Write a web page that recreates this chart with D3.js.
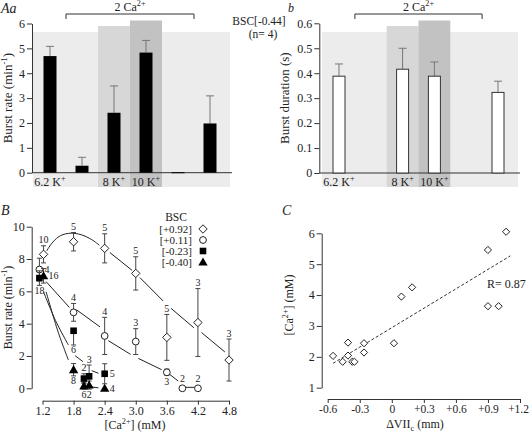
<!DOCTYPE html>
<html><head><meta charset="utf-8">
<script src="https://cdn.jsdelivr.net/npm/d3@7"></script>
<style>
body{margin:0;background:#fff}
svg{display:block}
text{font-family:"Liberation Serif","Times New Roman",serif;fill:#222}
</style>
</head><body><svg id="c" width="529" height="432"></svg>
<script>
// ---------- Panel A data ----------
const conditions = ["6.2 K", "2 Ca i", "8 K", "10 K", "2 Ca ii", "2 Ca iii"];
const conditionLabels = ["6.2 K", "", "8 K", "10 K", "", ""];
const burstRate = [4.69, 0.28, 2.41, 4.83, 0.02, 1.98];
const burstRateErr = [0.39, 0.34, 1.08, 0.49, 0, 1.11];
const burstDur = [0.388, null, 0.416, 0.388, null, 0.323];
const burstDurErr = [0.049, null, 0.084, 0.057, null, 0.045];
const rateTicksA = [0, 1, 2, 3, 4, 5, 6];
const durTicks = [0, 0.1, 0.2, 0.3, 0.4, 0.5, 0.6];

// ---------- Panel B data ----------
const bscLabels = ["[+0.92]", "[+0.11]", "[-0.23]", "[-0.40]"];
const diaX = [1.22, 1.8, 2.4, 3.0, 3.6, 4.2, 4.8];
const diaY = [8.29, 9.07, 8.66, 7.11, 3.15, 4.07, 1.75];
const diaErr = [0.53, 0.57, 0.9, 1.03, 1.42, 2.1, 1.3];
const diaN = [10, 5, 5, 5, 5, 3, 3];
const circX = [1.14, 1.8, 2.4, 3.0, 3.6, 3.9, 4.2];
const circY = [7.35, 4.70, 3.24, 2.89, 0.99, 0, 0];
const circErr = [0.7, 0.55, 1.15, 0.8, 0.2, 0, 0];
const circN = [4, 4, 4, 3, 3, 2, 2];
const sqX = [1.14, 1.8, 2.0, 2.1, 2.4];
const sqY = [6.82, 3.56, 0.6, 0.74, 0.9];
const sqErrLo = [0.45, 0.88, 0.3, 0.7, 0.62];
const sqErrHi = [0.45, 0, 0.3, 0.7, 0.62];
const sqN = [18, 6, 2, 3, 5];
const triX = [1.22, 1.8, 2.0, 2.1, 2.4];
const triY = [6.96, 1.15, 0.15, 0.2, 0];
const triErr = [0.45, 0.38, 0.2, 0.25, 0];
const triN = [16, 8, 6, 2, 4];
const diaFit = [
  [[1.28, 8.5], [1.4, 9.05], [1.55, 9.45], [1.75, 9.6], [1.95, 9.5], [2.15, 9.2], [2.3, 8.85]],
  [[2.5, 8.4], [2.93, 7.3]],
  [[3.08, 6.85], [3.53, 5.4]],
  [[3.68, 4.95], [4.12, 3.75]],
  [[4.27, 3.45], [4.72, 2.25]]
];
const circFit = [
  [[1.27, 6.6], [1.72, 5.0]],
  [[1.86, 4.85], [2.31, 3.8]],
  [[2.47, 2.95], [2.9, 2.1]],
  [[3.05, 1.85], [3.5, 1.15]],
  [[3.66, 0.85], [3.82, 0.45]],
  [[3.97, 0.06], [4.13, 0.06]]
];
const sqFit = [
  [[1.22, 5.97], [1.45, 4.2], [1.7, 2.68]],
  [[1.83, 2.02], [1.98, 1.65]],
  [[2.15, 1.09], [2.28, 0.93]]
];
const triFit = [
  [[1.27, 5.97], [1.5, 3.5], [1.7, 1.75]],
  [[2.15, 0.08], [2.28, 0.03]]
];
const caTicks = [1.2, 1.8, 2.4, 3.0, 3.6, 4.2, 4.8];
const rateTicksB = [0, 2, 4, 6, 8, 10];

// ---------- Panel C data ----------
const dVII = [-0.55, -0.46, -0.41, -0.41, -0.37, -0.35, -0.26, -0.26, 0.02, 0.09, 0.19, 0.9, 0.9, 1.0, 1.07];
const caThresh = [2.03, 1.84, 2.46, 2.04, 1.84, 1.84, 2.44, 2.14, 2.44, 3.95, 4.25, 5.46, 3.64, 3.64, 6.05];
const regLine = [[-0.55, 1.79], [1.11, 5.27]];
const dTicks = [-0.6, -0.3, 0, 0.3, 0.6, 0.9, 1.2];
const caTicksC = [1, 2, 3, 4, 5, 6];

// ---------- helpers ----------
const svg = d3.select("#c");
svg.append("rect").attr("width", 529).attr("height", 432).attr("fill", "#fff");

function rich(t, parts, fs) {
  let shift = 0;
  parts.forEach(p => {
    const target = p.sup ? -fs * 0.4 : p.sub ? fs * 0.25 : 0;
    const ts = t.append("tspan").attr("dy", target - shift).text(p.t);
    if (p.sup || p.sub) ts.attr("font-size", fs * 0.68);
    shift = target;
  });
  return t;
}
function styleAxis(g) {
  g.selectAll("path,line").attr("stroke", "#333").attr("stroke-width", 1);
  g.selectAll("text").attr("fill", "#222");
}

// ---------- bar panels ----------
function barPanel(opt) {
  const g = svg.append("g");
  const x = d3.scalePoint().domain(conditions).range(opt.xr);
  const step = x.step();
  const y = d3.scaleLinear().domain(opt.yd).range(opt.yr);
  g.append("rect").attr("x", x(conditions[0]) - 17).attr("y", 32)
    .attr("width", x(conditions[5]) + 20 - (x(conditions[0]) - 17)).attr("height", 155).attr("fill", "#ececec");
  g.append("rect").attr("x", x("8 K") - step / 2).attr("y", 26).attr("width", step).attr("height", 161).attr("fill", "#d7d7d7");
  g.append("rect").attr("x", x("10 K") - step / 2).attr("y", 20.5).attr("width", step).attr("height", 166.5).attr("fill", "#c2c2c2");
  const ya = g.append("g").attr("transform", `translate(${opt.axisX},0)`)
    .call(d3.axisLeft(y).tickValues(opt.ticks).tickSize(5).tickSizeOuter(0).tickFormat(opt.fmt))
    .attr("font-size", 12).attr("font-family", null);
  styleAxis(ya);
  ya.selectAll("text").attr("x", -7);
  g.append("line").attr("x1", opt.axisX).attr("x2", x(conditions[5]) + 22)
    .attr("y1", y(0)).attr("y2", y(0)).attr("stroke", "#333");
  opt.vals.forEach((v, i) => {
    if (v === null) return;
    const c = conditions[i];
    if (opt.err[i] > 0) {
      g.append("line").attr("x1", x(c)).attr("x2", x(c)).attr("y1", y(v)).attr("y2", y(v + opt.err[i])).attr("stroke", "#777");
      g.append("line").attr("x1", x(c) - 4).attr("x2", x(c) + 4).attr("y1", y(v + opt.err[i])).attr("y2", y(v + opt.err[i])).attr("stroke", "#777");
    }
    g.append("rect").attr("x", x(c) - opt.bw / 2).attr("y", y(v)).attr("width", opt.bw)
      .attr("height", Math.max(1, y(0) - y(v)))
      .attr("fill", opt.fill).attr("stroke", opt.stroke).attr("stroke-width", opt.fill === "#000" ? 0 : 1);
  });
  conditionLabels.forEach((l, i) => {
    if (!l) return;
    rich(g.append("text").attr("x", x(conditions[i])).attr("y", 186).attr("text-anchor", "middle").attr("font-size", 12),
      [{ t: l }, { t: "+", sup: true }], 12);
  });
  const bx1 = x(conditions[1]) - step / 2, bx2 = x(conditions[4]) + step / 2;
  g.append("path").attr("d", `M${bx1},19V14H${bx2}V19`).attr("fill", "none").attr("stroke", "#333");
  rich(g.append("text").attr("x", (bx1 + bx2) / 2).attr("y", 11).attr("text-anchor", "middle").attr("font-size", 12),
    [{ t: "2 Ca" }, { t: "2+", sup: true }], 12);
  rich(g.append("text").attr("transform", `translate(${opt.labX},${(opt.yr[0] + opt.yr[1]) / 2}) rotate(-90)`)
    .attr("text-anchor", "middle").attr("font-size", 13), opt.ylab, 13);
  return { x, y };
}

barPanel({
  xr: [50, 210], yd: [0, 6], yr: [172.7, 23.5], axisX: 32, ticks: rateTicksA, fmt: d3.format("d"),
  vals: burstRate, err: burstRateErr, bw: 13, fill: "#000", stroke: "none", labX: 12,
  ylab: [{ t: "Burst rate (min" }, { t: "-1", sup: true }, { t: ")" }]
});
barPanel({
  xr: [339, 498], yd: [0, 0.6], yr: [173, 23.3], axisX: 319.3, ticks: durTicks, fmt: d => d === 0 ? "0" : d3.format(".1f")(d),
  vals: burstDur, err: burstDurErr, bw: 12, fill: "#fff", stroke: "#333", labX: 289,
  ylab: [{ t: "Burst duration (s)" }]
});

rich(svg.append("text").attr("x", 1).attr("y", 13).attr("font-family", "Liberation Sans, Arial, sans-serif").attr("font-style", "italic").attr("font-size", 14),
  [{ t: "A" }, { t: "a" }], 14);
svg.append("text").attr("x", 288).attr("y", 12).attr("font-style", "italic").attr("font-size", 12).text("b");
svg.append("text").attr("x", 259).attr("y", 24.5).attr("text-anchor", "middle").attr("font-size", 11.5).text("BSC[-0.44]");
svg.append("text").attr("x", 263).attr("y", 38).attr("text-anchor", "middle").attr("font-size", 11.5).text("(n= 4)");

// ---------- Panel B ----------
const xS = d3.scaleLinear().domain([1.2, 4.8]).range([42.5, 229]);
const yS = d3.scaleLinear().domain([0, 10]).range([388.3, 226.7]);
const gB = svg.append("g");
const yaB = gB.append("g").attr("transform", "translate(31.7,0)")
  .call(d3.axisLeft(yS).tickValues(rateTicksB).tickSize(5).tickSizeOuter(0)).attr("font-size", 12).attr("font-family", null);
styleAxis(yaB); yaB.selectAll("text").attr("x", -7);
const xaB = gB.append("g").attr("transform", "translate(0,400.7)")
  .call(d3.axisBottom(xS).tickValues(caTicks).tickSize(4).tickSizeOuter(0).tickFormat(d3.format(".1f"))).attr("font-size", 12).attr("font-family", null);
styleAxis(xaB); xaB.selectAll("text").attr("y", 6);
rich(gB.append("text").attr("x", 135).attr("y", 428.5).attr("text-anchor", "middle").attr("font-size", 12),
  [{ t: "[Ca" }, { t: "2+", sup: true }, { t: "] (mM)" }], 12);
rich(gB.append("text").attr("transform", `translate(12,307.5) rotate(-90)`).attr("text-anchor", "middle").attr("font-size", 12),
  [{ t: "Burst rate (min" }, { t: "-1", sup: true }, { t: ")" }], 12);
svg.append("text").attr("x", 1).attr("y", 215).attr("font-family", "Liberation Sans, Arial, sans-serif").attr("font-style", "italic").attr("font-size", 14).text("B");

const line = d3.line().x(d => xS(d[0])).y(d => yS(d[1])).curve(d3.curveCatmullRom);
[diaFit, circFit, sqFit, triFit].forEach(f => f.forEach(seg =>
  gB.append("path").attr("d", line(seg)).attr("fill", "none").attr("stroke", "#222").attr("stroke-width", 1)));

const diamondPath = s => `M0,${-s}L${s},0L0,${s}L${-s},0Z`;
function marker(g, type, cx, cy) {
  if (type === "dia") g.append("path").attr("d", diamondPath(4.2)).attr("transform", `translate(${cx},${cy})`).attr("fill", "#fff").attr("stroke", "#222");
  else if (type === "circ") g.append("circle").attr("cx", cx).attr("cy", cy).attr("r", 3.4).attr("fill", "#fff").attr("stroke", "#222");
  else if (type === "sq") g.append("rect").attr("x", cx - 3.3).attr("y", cy - 3.3).attr("width", 6.6).attr("height", 6.6).attr("fill", "#000");
  else g.append("path").attr("d", d3.symbol(d3.symbolTriangle, 38)()).attr("transform", `translate(${cx},${cy + 0.8})`).attr("fill", "#000");
}
function series(type, xs, ys, lo, hi, ns, pos) {
  xs.forEach((xv, i) => {
    const cx = xS(xv), cy = yS(ys[i]);
    const top = yS(ys[i] + hi[i]), bot = yS(ys[i] - lo[i]);
    if (hi[i] > 0 || lo[i] > 0) {
      gB.append("line").attr("x1", cx).attr("x2", cx).attr("y1", top).attr("y2", bot).attr("stroke", "#444");
      if (hi[i] > 0) gB.append("line").attr("x1", cx - 2.5).attr("x2", cx + 2.5).attr("y1", top).attr("y2", top).attr("stroke", "#444");
      if (lo[i] > 0) gB.append("line").attr("x1", cx - 2.5).attr("x2", cx + 2.5).attr("y1", bot).attr("y2", bot).attr("stroke", "#444");
    }
    marker(gB, type, cx, cy);
    const p = pos[i];
    const t = gB.append("text").attr("font-size", 10).text(ns[i]);
    if (p === "a") t.attr("x", cx).attr("y", Math.min(top, cy - 4) - 2.5).attr("text-anchor", "middle");
    else if (p === "b") t.attr("x", cx).attr("y", Math.max(bot, cy + 4) + 8.5).attr("text-anchor", "middle");
    else t.attr("x", cx + 5).attr("y", cy + 3.5).attr("text-anchor", "start");
  });
}
series("dia", diaX, diaY, diaErr, diaErr, diaN, ["a", "a", "a", "a", "a", "a", "a"]);
series("circ", circX, circY, circErr, circErr, circN, ["r", "a", "a", "a", "b", "a", "a"]);
series("sq", sqX, sqY, sqErrLo, sqErrHi, sqN, ["b", "b", "a", "a", "r"]);
series("tri", triX, triY, triErr, triErr, triN, ["r", "b", "b", "b", "r"]);

// legend
gB.append("text").attr("x", 176).attr("y", 221).attr("text-anchor", "middle").attr("font-size", 11.5).text("BSC");
const legTypes = ["dia", "circ", "sq", "tri"];
bscLabels.forEach((l, i) => {
  const yy = 229 + i * 11;
  gB.append("text").attr("x", 192).attr("y", yy + 3.8).attr("text-anchor", "end").attr("font-size", 11).text(l);
  marker(gB, legTypes[i], 203, yy);
});

// ---------- Panel C ----------
const xC = d3.scaleLinear().domain([-0.6, 1.2]).range([327.7, 520]);
const yC = d3.scaleLinear().domain([1, 6]).range([387.7, 233.3]);
const gC = svg.append("g");
const yaC = gC.append("g").attr("transform", "translate(321.7,0)")
  .call(d3.axisLeft(yC).tickValues(caTicksC).tickSize(5).tickSizeOuter(0).tickFormat(d3.format("d"))).attr("font-size", 12).attr("font-family", null);
styleAxis(yaC); yaC.selectAll("text").attr("x", -7);
const xaC = gC.append("g").attr("transform", "translate(0,399)")
  .call(d3.axisBottom(xC).tickValues(dTicks).tickSize(4).tickSizeOuter(0)
    .tickFormat(d => Math.abs(d) < 1e-9 ? "0" : (d > 0 ? "+" : "-") + Math.abs(d).toFixed(1))).attr("font-size", 11.5).attr("font-family", null);
styleAxis(xaC); xaC.selectAll("text").attr("y", 6);
xaC.selectAll(".tick:last-of-type text").attr("text-anchor", "end").attr("x", 8.5);
rich(gC.append("text").attr("x", 415).attr("y", 428).attr("text-anchor", "middle").attr("font-size", 12),
  [{ t: "\u0394VII" }, { t: "c", sub: true }, { t: " (mm)" }], 12);
rich(gC.append("text").attr("transform", `translate(293,305) rotate(-90)`).attr("text-anchor", "middle").attr("font-size", 12),
  [{ t: "[Ca" }, { t: "2+", sup: true }, { t: "] (mM)" }], 12);
svg.append("text").attr("x", 282).attr("y", 215).attr("font-family", "Liberation Sans, Arial, sans-serif").attr("font-style", "italic").attr("font-size", 14).text("C");
gC.append("path").attr("d", d3.line().x(d => xC(d[0])).y(d => yC(d[1]))(regLine))
  .attr("fill", "none").attr("stroke", "#333").attr("stroke-dasharray", "3,2");
dVII.forEach((d, i) => gC.append("path").attr("d", diamondPath(3.6))
  .attr("transform", `translate(${xC(d)},${yC(caThresh[i])})`).attr("fill", "#fff").attr("stroke", "#222"));
gC.append("text").attr("x", 487).attr("y", 288).attr("font-size", 12).text("R= 0.87");
</script></body></html>
